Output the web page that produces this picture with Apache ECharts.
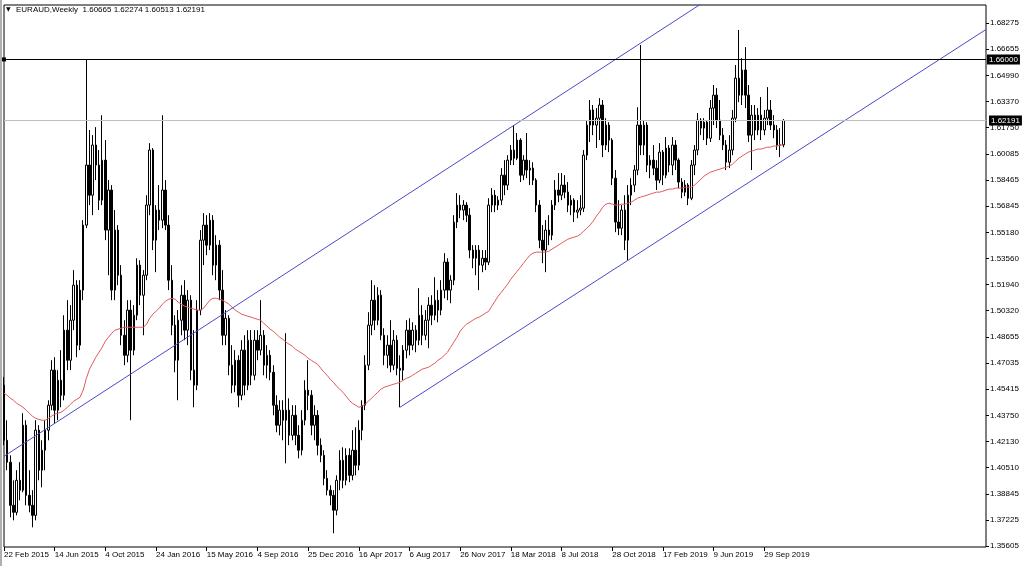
<!DOCTYPE html>
<html><head><meta charset="utf-8">
<script src="https://cdn.jsdelivr.net/npm/echarts@6/dist/echarts.min.js"></script>
<style>html,body{margin:0;padding:0;background:#fff}#c{width:1024px;height:566px}</style>
</head><body><div id="c"></div>
<script>
const opens = [1.4565,1.4221,1.4084,1.3815,1.3771,1.3971,1.3909,1.4315,1.3877,1.3815,1.3752,1.4284,1.4034,1.4159,1.4284,1.4440,1.4659,1.4409,1.4596,1.4502,1.4909,1.4721,1.4971,1.5190,1.4815,1.5159,1.5565,1.5940,1.5752,1.6065,1.5940,1.5721,1.5971,1.5534,1.5784,1.5159,1.5534,1.5252,1.4877,1.4752,1.5034,1.4784,1.5002,1.5315,1.5127,1.5252,1.5690,1.6034,1.5471,1.5659,1.5596,1.5784,1.5565,1.5221,1.4940,1.4721,1.4971,1.5127,1.4909,1.5096,1.4659,1.4565,1.5034,1.5471,1.5565,1.5440,1.5596,1.5315,1.5440,1.5159,1.4877,1.4983,1.4690,1.4565,1.4721,1.4502,1.4784,1.4565,1.4846,1.4627,1.4846,1.4784,1.4877,1.4690,1.4752,1.4646,1.4440,1.4315,1.4409,1.4346,1.4409,1.4252,1.4377,1.4252,1.4159,1.4346,1.4534,1.4502,1.4315,1.4377,1.4190,1.4127,1.3983,1.3909,1.3877,1.3784,1.3971,1.4096,1.3971,1.4127,1.4002,1.4159,1.4065,1.4284,1.4440,1.4690,1.4940,1.5096,1.4971,1.5127,1.4877,1.4752,1.4815,1.4690,1.4846,1.4671,1.4659,1.4784,1.4909,1.4815,1.4909,1.4846,1.5002,1.4877,1.4971,1.5065,1.5002,1.5096,1.5034,1.5159,1.5334,1.5159,1.5221,1.5584,1.5690,1.5659,1.5690,1.5627,1.5409,1.5358,1.5409,1.5315,1.5358,1.5334,1.5690,1.5752,1.5690,1.5721,1.5877,1.5815,1.5971,1.6034,1.5983,1.6096,1.5877,1.5971,1.5909,1.5921,1.5846,1.5690,1.5471,1.5409,1.5534,1.5502,1.5690,1.5784,1.5752,1.5815,1.5771,1.5690,1.5721,1.5646,1.5659,1.5671,1.6002,1.6190,1.6284,1.6190,1.6233,1.6315,1.6065,1.6190,1.6096,1.5858,1.5584,1.5546,1.5659,1.5471,1.5752,1.5815,1.5909,1.6190,1.6065,1.6190,1.5940,1.5971,1.5921,1.5846,1.6021,1.5877,1.6046,1.5940,1.6065,1.5971,1.5834,1.5771,1.5815,1.5733,1.5940,1.6034,1.6221,1.6171,1.6208,1.6108,1.6296,1.6377,1.6221,1.6127,1.6065,1.5958,1.6034,1.6233,1.6483,1.6377,1.6534,1.6377,1.6127,1.6252,1.6159,1.6252,1.6159,1.6233,1.6284,1.6190,1.6159,1.6065,1.60665];
const closes = [1.4221,1.4084,1.3815,1.3771,1.3971,1.3909,1.4315,1.3877,1.3815,1.3752,1.4284,1.4034,1.4159,1.4284,1.4440,1.4659,1.4409,1.4596,1.4502,1.4909,1.4721,1.4971,1.5190,1.4815,1.5159,1.5565,1.5940,1.5752,1.6065,1.5940,1.5721,1.5971,1.5534,1.5784,1.5159,1.5534,1.5252,1.4877,1.4752,1.5034,1.4784,1.5002,1.5315,1.5127,1.5252,1.5690,1.6034,1.5471,1.5659,1.5596,1.5784,1.5565,1.5221,1.4940,1.4721,1.4971,1.5127,1.4909,1.5096,1.4659,1.4565,1.5034,1.5471,1.5565,1.5440,1.5596,1.5315,1.5440,1.5159,1.4877,1.4983,1.4690,1.4565,1.4721,1.4502,1.4784,1.4565,1.4846,1.4627,1.4846,1.4784,1.4877,1.4690,1.4752,1.4646,1.4440,1.4315,1.4409,1.4346,1.4409,1.4252,1.4377,1.4252,1.4159,1.4346,1.4534,1.4502,1.4315,1.4377,1.4190,1.4127,1.3983,1.3909,1.3877,1.3784,1.3971,1.4096,1.3971,1.4127,1.4002,1.4159,1.4065,1.4284,1.4440,1.4690,1.4940,1.5096,1.4971,1.5127,1.4877,1.4752,1.4815,1.4690,1.4846,1.4671,1.4659,1.4784,1.4909,1.4815,1.4909,1.4846,1.5002,1.4877,1.4971,1.5065,1.5002,1.5096,1.5034,1.5159,1.5334,1.5159,1.5221,1.5584,1.5690,1.5659,1.5690,1.5627,1.5409,1.5358,1.5409,1.5315,1.5358,1.5334,1.5690,1.5752,1.5690,1.5721,1.5877,1.5815,1.5971,1.6034,1.5983,1.6096,1.5877,1.5971,1.5909,1.5921,1.5846,1.5690,1.5471,1.5409,1.5534,1.5502,1.5690,1.5784,1.5752,1.5815,1.5771,1.5690,1.5721,1.5646,1.5659,1.5671,1.6002,1.6190,1.6284,1.6190,1.6233,1.6315,1.6065,1.6190,1.6096,1.5858,1.5584,1.5546,1.5659,1.5471,1.5752,1.5815,1.5909,1.6190,1.6065,1.6190,1.5940,1.5971,1.5921,1.5846,1.6021,1.5877,1.6046,1.5940,1.6065,1.5971,1.5834,1.5771,1.5815,1.5733,1.5940,1.6034,1.6221,1.6171,1.6208,1.6108,1.6296,1.6377,1.6221,1.6127,1.6065,1.5958,1.6034,1.6233,1.6483,1.6377,1.6534,1.6377,1.6127,1.6252,1.6159,1.6252,1.6159,1.6233,1.6284,1.6190,1.6159,1.6065,1.60665,1.62191];
const highs = [1.4615,1.4346,1.4127,1.3971,1.4034,1.4084,1.4390,1.4346,1.4034,1.3909,1.4346,1.4315,1.4221,1.4346,1.4471,1.4721,1.4740,1.4659,1.4784,1.5002,1.5096,1.5065,1.5284,1.5221,1.5221,1.5596,1.6596,1.6159,1.6127,1.6177,1.6034,1.6252,1.6096,1.5846,1.5815,1.5659,1.5565,1.5315,1.4971,1.5096,1.5096,1.5065,1.5358,1.5346,1.5284,1.5752,1.6077,1.6046,1.5690,1.5815,1.6252,1.5846,1.5627,1.5315,1.5002,1.5034,1.5190,1.5221,1.5159,1.5127,1.4909,1.5096,1.5534,1.5640,1.5627,1.5640,1.5627,1.5502,1.5471,1.5284,1.5034,1.5002,1.4815,1.4784,1.4752,1.4846,1.4877,1.4909,1.4909,1.4909,1.4909,1.5096,1.4909,1.4815,1.4784,1.4690,1.4502,1.4471,1.4471,1.4890,1.4483,1.4440,1.4440,1.4315,1.4409,1.4596,1.4721,1.4534,1.4440,1.4409,1.4233,1.4159,1.4034,1.3940,1.3909,1.4002,1.4159,1.4177,1.4171,1.4171,1.4284,1.4302,1.4346,1.4471,1.4752,1.5021,1.5221,1.5190,1.5177,1.5159,1.4921,1.4877,1.4971,1.4909,1.4877,1.4752,1.4815,1.4971,1.4983,1.4958,1.4940,1.5171,1.5065,1.5034,1.5115,1.5127,1.5240,1.5159,1.5221,1.5390,1.5358,1.5252,1.5627,1.5765,1.5752,1.5721,1.5708,1.5671,1.5440,1.5440,1.5440,1.5409,1.5409,1.5733,1.5796,1.5784,1.5746,1.5921,1.5971,1.6002,1.6065,1.6190,1.6140,1.6108,1.6002,1.6140,1.5971,1.5958,1.5858,1.5721,1.5565,1.5596,1.5627,1.5721,1.5846,1.5890,1.5890,1.5877,1.5834,1.5752,1.5733,1.5721,1.5752,1.6034,1.6221,1.6346,1.6315,1.6296,1.6358,1.6346,1.6233,1.6208,1.6108,1.5909,1.5721,1.5690,1.5752,1.5815,1.5858,1.5940,1.6302,1.6690,1.6221,1.6208,1.6002,1.6065,1.5971,1.6077,1.6034,1.6115,1.6065,1.6115,1.6096,1.5983,1.5858,1.5846,1.5827,1.5971,1.6065,1.6265,1.6233,1.6233,1.6221,1.6346,1.6440,1.6421,1.6346,1.6171,1.6096,1.6127,1.6284,1.6565,1.6784,1.6608,1.6677,1.6440,1.6315,1.6315,1.6296,1.6365,1.6284,1.6427,1.6346,1.6252,1.6190,1.6171,1.62274];
const lows = [1.4190,1.4034,1.3740,1.3721,1.3752,1.3846,1.3896,1.3815,1.3771,1.3677,1.3721,1.3971,1.3927,1.4034,1.4221,1.4409,1.4327,1.4346,1.4427,1.4471,1.4659,1.4659,1.4909,1.4740,1.4784,1.5096,1.5546,1.5690,1.5627,1.5846,1.5659,1.5690,1.5471,1.5252,1.5096,1.5096,1.5190,1.4815,1.4690,1.4708,1.4346,1.4752,1.4971,1.5065,1.4877,1.5221,1.5627,1.5409,1.5271,1.5534,1.5546,1.5534,1.5159,1.4877,1.4646,1.4471,1.4877,1.4846,1.4815,1.4596,1.4427,1.4534,1.5002,1.5315,1.5377,1.5409,1.5252,1.5221,1.5096,1.4815,1.4815,1.4627,1.4515,1.4521,1.4427,1.4471,1.4502,1.4534,1.4565,1.4596,1.4721,1.4752,1.4627,1.4608,1.4596,1.4377,1.4271,1.4252,1.4221,1.4077,1.4190,1.4221,1.4190,1.4108,1.4127,1.4315,1.4409,1.4252,1.4221,1.4127,1.4084,1.3940,1.3877,1.3815,1.3640,1.3752,1.3909,1.3921,1.3940,1.3959,1.3971,1.4002,1.4034,1.4221,1.4409,1.4659,1.4877,1.4909,1.4940,1.4846,1.4690,1.4671,1.4646,1.4659,1.4627,1.4427,1.4596,1.4733,1.4752,1.4784,1.4771,1.4815,1.4815,1.4846,1.4796,1.4940,1.4971,1.4958,1.5002,1.5108,1.5096,1.5077,1.5190,1.5546,1.5608,1.5596,1.5584,1.5358,1.5296,1.5252,1.5159,1.5271,1.5284,1.5315,1.5646,1.5646,1.5659,1.5690,1.5752,1.5784,1.5940,1.5940,1.5971,1.5834,1.5846,1.5858,1.5815,1.5815,1.5646,1.5421,1.5327,1.5271,1.5440,1.5471,1.5659,1.5708,1.5721,1.5733,1.5646,1.5627,1.5584,1.5608,1.5627,1.5646,1.5971,1.6084,1.6127,1.6046,1.6096,1.5990,1.6034,1.6021,1.5815,1.5521,1.5502,1.5502,1.5409,1.5346,1.5690,1.5771,1.5877,1.6002,1.6002,1.5896,1.5858,1.5877,1.5784,1.5827,1.5815,1.5858,1.5896,1.5877,1.5909,1.5796,1.5733,1.5746,1.5690,1.5721,1.5877,1.6002,1.6127,1.6096,1.6065,1.6084,1.6190,1.6171,1.6096,1.6034,1.5909,1.5921,1.6002,1.6208,1.6333,1.6315,1.6296,1.6084,1.5909,1.6096,1.6127,1.6096,1.6127,1.6190,1.6159,1.6108,1.6034,1.5990,1.60513];
const movingAverage = [1.4515,1.4502,1.4483,1.4471,1.4452,1.4440,1.4427,1.4409,1.4390,1.4371,1.4358,1.4352,1.4346,1.4346,1.4358,1.4371,1.4384,1.4390,1.4396,1.4409,1.4427,1.4446,1.4465,1.4477,1.4490,1.4534,1.4608,1.4665,1.4702,1.4740,1.4771,1.4802,1.4840,1.4865,1.4890,1.4909,1.4915,1.4921,1.4927,1.4927,1.4927,1.4927,1.4927,1.4927,1.4927,1.4946,1.4983,1.5009,1.5027,1.5046,1.5071,1.5090,1.5102,1.5108,1.5102,1.5084,1.5071,1.5059,1.5052,1.5046,1.5040,1.5034,1.5034,1.5046,1.5071,1.5096,1.5108,1.5108,1.5102,1.5096,1.5084,1.5071,1.5052,1.5034,1.5021,1.5009,1.5002,1.4996,1.4990,1.4983,1.4977,1.4971,1.4952,1.4934,1.4915,1.4902,1.4884,1.4865,1.4852,1.4834,1.4821,1.4809,1.4790,1.4777,1.4765,1.4752,1.4733,1.4721,1.4708,1.4696,1.4671,1.4646,1.4627,1.4602,1.4583,1.4558,1.4540,1.4521,1.4496,1.4471,1.4452,1.4440,1.4427,1.4434,1.4446,1.4465,1.4483,1.4502,1.4521,1.4540,1.4552,1.4558,1.4565,1.4571,1.4577,1.4583,1.4596,1.4608,1.4615,1.4627,1.4640,1.4652,1.4665,1.4671,1.4677,1.4690,1.4702,1.4721,1.4733,1.4752,1.4771,1.4802,1.4834,1.4865,1.4902,1.4927,1.4946,1.4958,1.4971,1.4983,1.4990,1.5002,1.5015,1.5027,1.5059,1.5090,1.5121,1.5146,1.5171,1.5196,1.5227,1.5252,1.5277,1.5302,1.5327,1.5352,1.5377,1.5390,1.5396,1.5396,1.5396,1.5396,1.5402,1.5415,1.5427,1.5440,1.5452,1.5465,1.5477,1.5484,1.5490,1.5496,1.5509,1.5527,1.5546,1.5565,1.5590,1.5621,1.5646,1.5677,1.5696,1.5702,1.5696,1.5690,1.5690,1.5696,1.5696,1.5702,1.5708,1.5721,1.5733,1.5740,1.5746,1.5752,1.5759,1.5765,1.5771,1.5771,1.5777,1.5784,1.5790,1.5790,1.5796,1.5796,1.5796,1.5802,1.5802,1.5802,1.5815,1.5834,1.5852,1.5871,1.5884,1.5896,1.5902,1.5909,1.5915,1.5921,1.5927,1.5934,1.5946,1.5965,1.5983,1.5996,1.6009,1.6021,1.6027,1.6034,1.6040,1.6040,1.6046,1.6052,1.6052,1.6059,1.6059,1.6065,1.6065];
const tickLabels = ['22 Feb 2015','14 Jun 2015','4 Oct 2015','24 Jan 2016','15 May 2016','4 Sep 2016','25 Dec 2016','16 Apr 2017','6 Aug 2017','26 Nov 2017','18 Mar 2018','8 Jul 2018','28 Oct 2018','17 Feb 2019','9 Jun 2019','29 Sep 2019'];
const priceTicks = [1.35605,1.37225,1.38845,1.40510,1.42130,1.43750,1.45415,1.47035,1.48655,1.50320,1.51940,1.53560,1.55180,1.56845,1.58465,1.60085,1.61750,1.63370,1.64990,1.66655,1.68275];
const upperChannel = [[0,1.4121],[222,1.6972]];
const lowerChannel = [[125,1.4427],[310,1.6787]];
const resistance = 1.66000;
const lastPrice = 1.62191;
const headerText = 'EURAUD,Weekly  1.60665 1.62274 1.60513 1.62191';
const weekStep = 16;
const slotCount = 311;

const categories = Array.from({length: slotCount}, (_, i) => 'w' + i);
const candles = closes.map((c, i) => [opens[i], c, lows[i], highs[i]]);
const showTick = (idx) => idx % weekStep === 0 && idx / weekStep < tickLabels.length;
const FONT = 'Liberation Sans, Arial, sans-serif';

const chart = echarts.init(document.getElementById('c'), null, {renderer: 'canvas'});
chart.setOption({
  animation: false,
  backgroundColor: '#ffffff',
  grid: {left: 4, right: 38, top: 5, bottom: 19, show: true, borderColor: '#000', borderWidth: 1, backgroundColor: 'transparent'},
  xAxis: {
    type: 'category', data: categories, boundaryGap: false,
    axisLine: {show: false},
    axisTick: {show: true, interval: (idx) => showTick(idx), length: 4, lineStyle: {color: '#000'}},
    axisLabel: {interval: (idx) => showTick(idx), formatter: (v, idx) => tickLabels[idx / weekStep] || '', align: 'left', margin: 4, fontSize: 8, color: '#000', fontFamily: FONT},
    splitLine: {show: false}
  },
  yAxis: {
    type: 'value', position: 'right', min: 1.35543, max: 1.6940, scale: true,
    axisLine: {show: false},
    axisTick: {show: true, customValues: priceTicks, length: 3, lineStyle: {color: '#000'}},
    axisLabel: {customValues: priceTicks, formatter: (v) => v.toFixed(5), fontSize: 8, color: '#000', margin: 4, fontFamily: FONT},
    splitLine: {show: false}
  },
  series: [
    {
      type: 'candlestick', data: candles, barWidth: 2,
      itemStyle: {color: '#ffffff', color0: '#000000', borderColor: '#000000', borderColor0: '#000000', borderWidth: 1},
      markLine: {
        silent: true, animation: false, symbol: ['none', 'none'], precision: 5,
        data: [
          {yAxis: resistance, symbol: ['emptyRect', 'emptyRect'], symbolSize: 4,
           lineStyle: {color: '#000', type: 'solid', width: 1},
           label: {show: true, position: 'end', formatter: () => resistance.toFixed(5), backgroundColor: '#000', color: '#fff', fontSize: 8, padding: [1, 2, 1, 2], distance: 1, fontFamily: FONT}},
          {yAxis: lastPrice,
           lineStyle: {color: '#c0c0c0', type: 'solid', width: 1},
           label: {show: true, position: 'end', formatter: () => lastPrice.toFixed(5), backgroundColor: '#000', color: '#fff', fontSize: 8, padding: [1, 2, 1, 2], distance: 3, fontFamily: FONT}}
        ]
      }
    },
    {type: 'line', data: movingAverage, showSymbol: false, symbol: 'none', lineStyle: {color: '#e05a5a', width: 1}, z: 3},
    {type: 'line', data: upperChannel, showSymbol: false, symbol: 'none', lineStyle: {color: '#4a4ac8', width: 1}, z: 4, clip: true},
    {type: 'line', data: lowerChannel, showSymbol: false, symbol: 'none', lineStyle: {color: '#4a4ac8', width: 1}, z: 4, clip: true}
  ],
  graphic: [
    {type: 'rect', left: 0, top: 0, shape: {width: 2, height: 566}, style: {fill: '#b0b0b0'}},
    {type: 'text', left: 6, top: 6, style: {text: '\u25BC', fontSize: 6, fill: '#000', fontFamily: 'DejaVu Sans'}},
    {type: 'text', left: 16, top: 6, style: {text: headerText, fontSize: 8, fill: '#000', fontFamily: FONT}}
  ]
});
</script>
</body></html>
